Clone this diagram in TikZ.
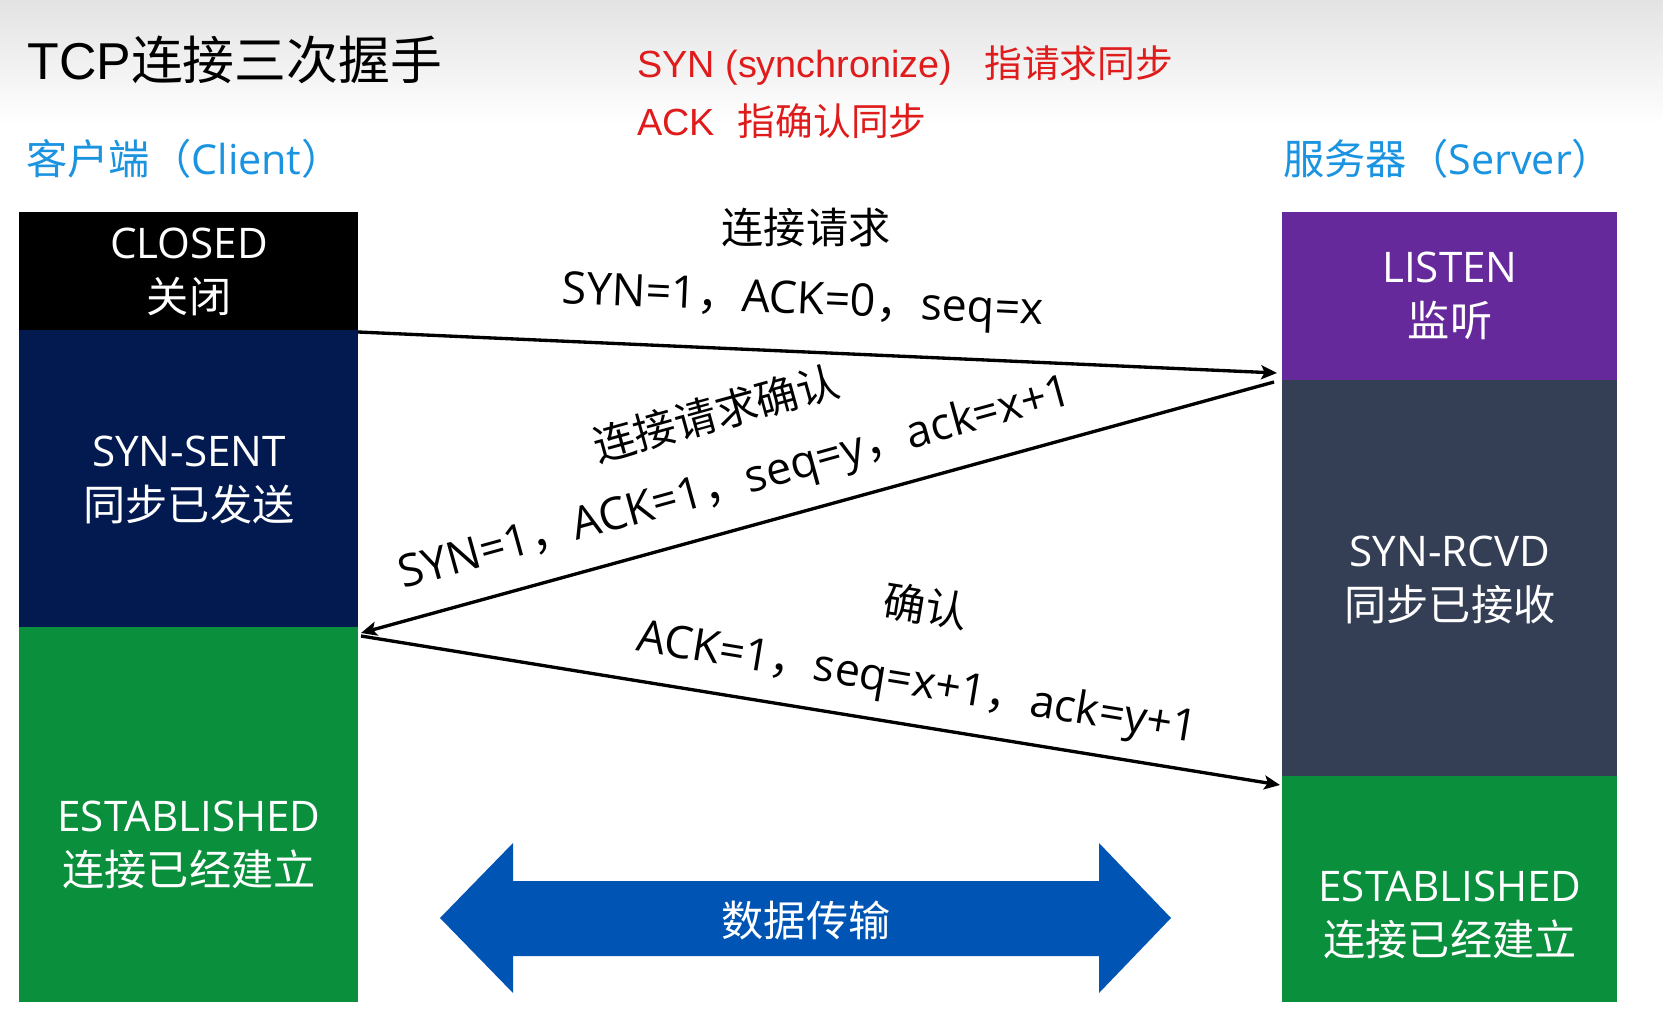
\documentclass[tikz,border=0pt]{standalone}
\usepackage{fontspec}
\setmainfont{Open Sans}
\newfontfamily\cjk{Noto Sans CJK SC}
\newfontfamily\arialfont{Liberation Sans}
\newcommand{\zh}[1]{{\cjk #1}}
\usetikzlibrary{arrows.meta}

\definecolor{sentcol}{HTML}{021A50}
\definecolor{estcol}{HTML}{0A8F3D}
\definecolor{listencol}{HTML}{66299C}
\definecolor{rcvdcol}{HTML}{343F55}
\definecolor{headcol}{HTML}{1A93E0}
\definecolor{notecol}{HTML}{E01B1B}
\definecolor{datacol}{HTML}{0055B4}

\begin{document}
\begin{tikzpicture}[x=0.02cm, y=-0.02cm,
  statebox/.style={anchor=north west, inner sep=0pt, outer sep=0pt},
  statetext/.style={text=white, align=center, font=\fontsize{24}{30.5}\selectfont},
  msg/.style={-{Stealth[length=9pt, width=8pt, inset=2pt]}, line width=1.9pt},
  msglabel/.style={inner sep=1pt, font=\fontsize{25.5}{28}\selectfont},
  msghead/.style={inner sep=1pt, font=\cjk\fontsize{24}{28}\selectfont},
  note/.style={anchor=base west, inner sep=0pt, text=notecol, font=\arialfont\fontsize{21.5}{24}\selectfont},
  side/.style={anchor=base west, inner sep=0pt, text=headcol, font=\fontsize{23.5}{26}\selectfont}
  ]
  \useasboundingbox (0,0) rectangle (1663,1030);
  \shade[top color=black!11, bottom color=white] (0,0) rectangle (1663,125);

  % headings
  \node[anchor=base west, inner sep=0pt, font=\fontsize{29.5}{35}\selectfont] (title) at (27,80) {{\arialfont TCP}\zh{连接三次握手}};
  \node[note] (synnote) at (637,78) {SYN (synchronize)\hspace{0.85em}\zh{指请求同步}};
  \node[note] (acknote) at (637,136) {ACK\hspace{0.6em}\zh{指确认同步}};
  \node[side] (client) at (26,175) {\zh{客户端（}Client\zh{）}};
  \node[side] (server) at (1283,175) {\zh{服务器（}Server\zh{）}};

  % client states
  \node[statebox, fill=black, minimum width=6.78cm, minimum height=2.36cm] (closed) at (19,212) {};
  \node[statebox, fill=sentcol, minimum width=6.78cm, minimum height=5.94cm] (sent) at (19,330) {};
  \node[statebox, fill=estcol, minimum width=6.78cm, minimum height=7.5cm] (cest) at (19,627) {};
  \node[statetext] (closedtxt) at (189,272) {CLOSED\\\zh{关闭}};
  \node[statetext] (senttxt) at (189,480) {SYN-SENT\\\zh{同步已发送}};
  \node[statetext] (cesttxt) at (189,845) {ESTABLISHED\\\zh{连接已经建立}};

  % server states
  \node[statebox, fill=listencol, minimum width=6.7cm, minimum height=3.36cm] (listen) at (1282,212) {};
  \node[statebox, fill=rcvdcol, minimum width=6.7cm, minimum height=7.92cm] (rcvd) at (1282,380) {};
  \node[statebox, fill=estcol, minimum width=6.7cm, minimum height=4.52cm] (sest) at (1282,776) {};
  \node[statetext] (listentxt) at (1450,296) {LISTEN\\\zh{监听}};
  \node[statetext] (rcvdtxt) at (1450,580) {SYN-RCVD\\\zh{同步已接收}};
  \node[statetext] (sesttxt) at (1450,915) {ESTABLISHED\\\zh{连接已经建立}};

  % handshake
  \coordinate (syn out) at (358,332);
  \coordinate (syn in) at (1277,373);
  \coordinate (synack out) at (1274,382);
  \coordinate (synack in) at (361,633);
  \coordinate (ack out) at (361,636);
  \coordinate (ack in) at (1280,785);
  \draw[msg] (syn out) -- (syn in);
  \draw[msg] (synack out) -- (synack in);
  \draw[msg] (ack out) -- (ack in);

  \node[msghead] (synreq) at (806,228) {连接请求};
  \node[msglabel, rotate=-2.55] (synval) at (803,303) {SYN=1\zh{，}ACK=0\zh{，}seq=x};
  \node[msghead, rotate=15.4] (synackreq) at (716,413) {连接请求确认};
  \node[msglabel, rotate=15.4] (synackval) at (736,485) {SYN=1\zh{，}ACK=1\zh{，}seq=y\zh{，}ack=x+1};
  \node[msghead, rotate=-9.3] (ackreq) at (926,606) {确认};
  \node[msglabel, rotate=-9.3] (ackval) at (917,685) {ACK=1\zh{，}seq=x+1\zh{，}ack=y+1};

  % data transfer
  \fill[datacol] (440,918) -- (513,843) -- (513,881) -- (1099,881) -- (1099,843) -- (1171,918)
    -- (1099,993) -- (1099,956) -- (513,956) -- (513,993) -- cycle;
  \node[text=white, font=\cjk\fontsize{24}{28}\selectfont] (data) at (806,920) {数据传输};
\end{tikzpicture}
\end{document}
